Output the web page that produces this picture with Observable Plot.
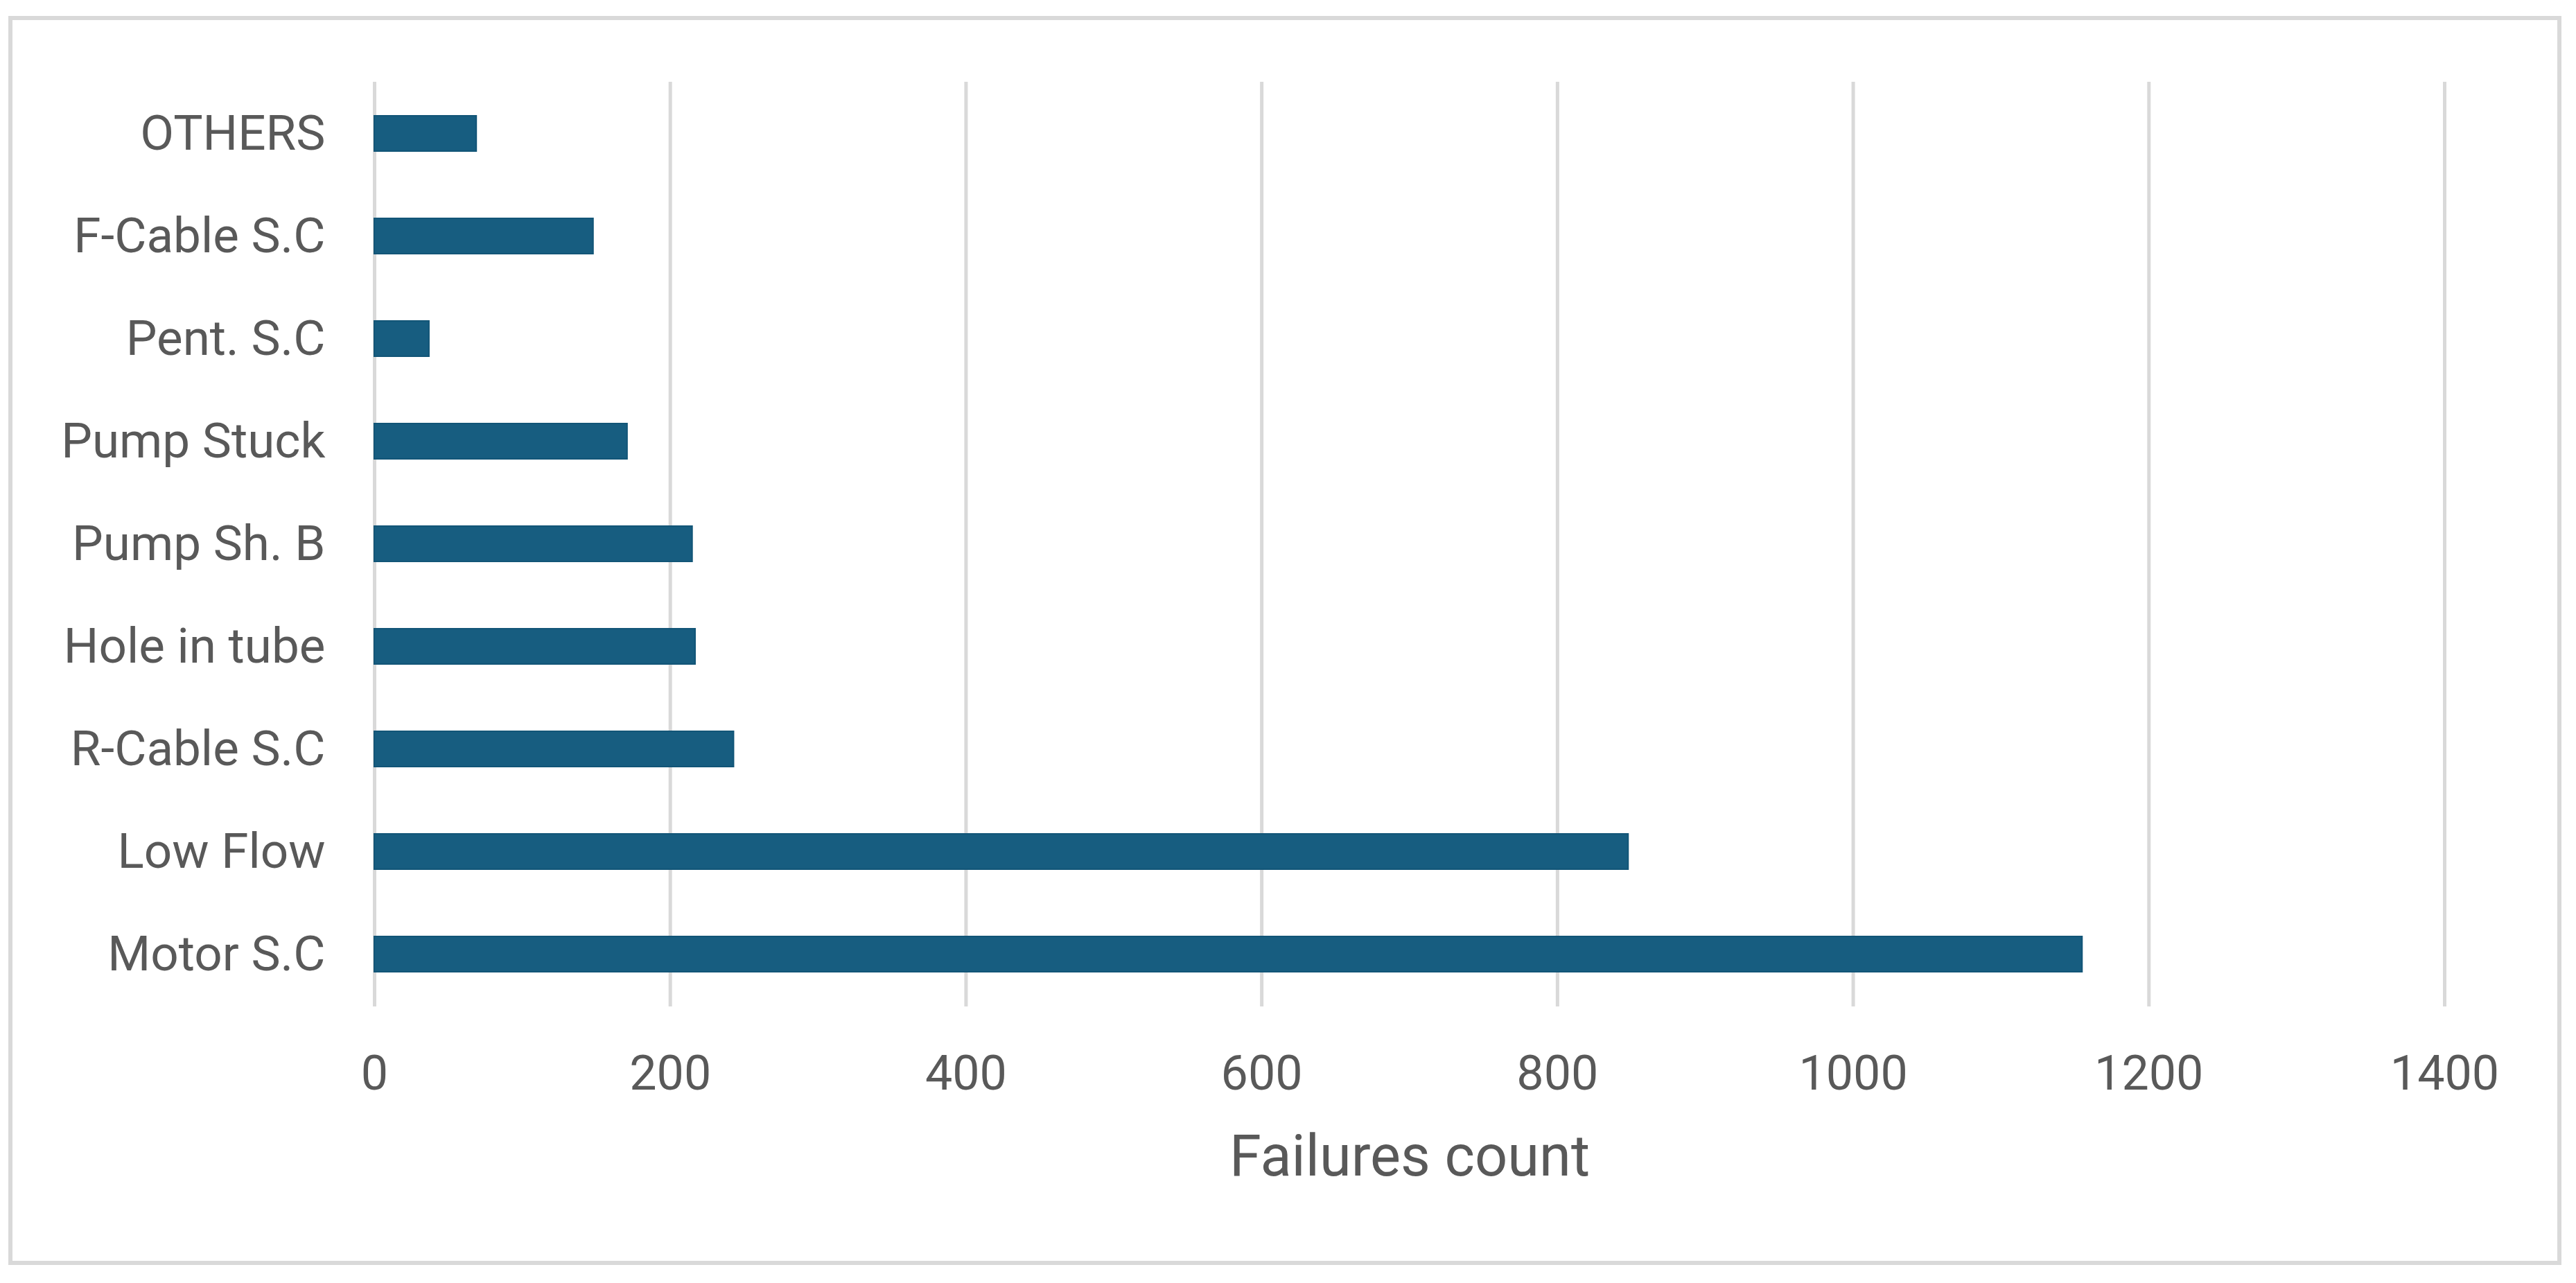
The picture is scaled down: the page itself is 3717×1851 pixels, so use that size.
<!DOCTYPE html>
<html>
<head>
<meta charset="utf-8">
<script src="https://cdn.jsdelivr.net/npm/d3@7"></script>
<script src="https://cdn.jsdelivr.net/npm/@observablehq/plot@0.6"></script>
<style>
  html, body { margin: 0; padding: 0; background: #ffffff; }
  #wrap { position: relative; width: 3717px; height: 1851px; overflow: hidden; }
  #frame { position: absolute; left: 12px; top: 23px; width: 3684px; height: 1802px; box-sizing: border-box; border: 6px solid #d9d9d9; pointer-events: none; }
  #chart { position: absolute; left: 0; top: 0; }
</style>
</head>
<body>
<div id="wrap"><div id="chart"></div><div id="frame"></div></div>
<script>
const categories = ["OTHERS", "F-Cable S.C", "Pent. S.C", "Pump Stuck", "Pump Sh. B", "Hole in tube", "R-Cable S.C", "Low Flow", "Motor S.C"];
const failures = [69, 148, 37, 171, 215, 217, 243, 848, 1155];
const xTicks = [0, 200, 400, 600, 800, 1000, 1200, 1400];
const xTitle = "Failures count";

const data = categories.map((c, i) => ({cause: c, count: failures[i]}));

const chart = Plot.plot({
  width: 3717,
  height: 1851,
  marginLeft: 540,
  marginRight: 190,
  marginTop: 118,
  marginBottom: 399,
  style: {fontFamily: "Roboto, 'Liberation Sans', sans-serif", fontSize: "70px", color: "#595959", background: "transparent"},
  x: {domain: [0, 1400]},
  y: {domain: categories, paddingInner: 0.655, paddingOuter: 0.3275},
  marks: [
    Plot.gridX(xTicks, {stroke: "#d9d9d9", strokeOpacity: 1, strokeWidth: 5}),
    Plot.barX(data, {x: "count", y: "cause", fill: "#175d80", stroke: "#125577", strokeWidth: 2}),
    Plot.axisX({ticks: xTicks, tickSize: 0, tickPadding: 70, tickFormat: d => String(d), label: null, fontSize: 70}),
    Plot.axisY({tickSize: 0, tickPadding: 71, label: null, fontSize: 71}),
    Plot.text([xTitle], {frameAnchor: "bottom", dy: 243, fontSize: 83, fill: "#595959", lineAnchor: "bottom"})
  ]
});
document.getElementById("chart").appendChild(chart);
</script>
</body>
</html>
